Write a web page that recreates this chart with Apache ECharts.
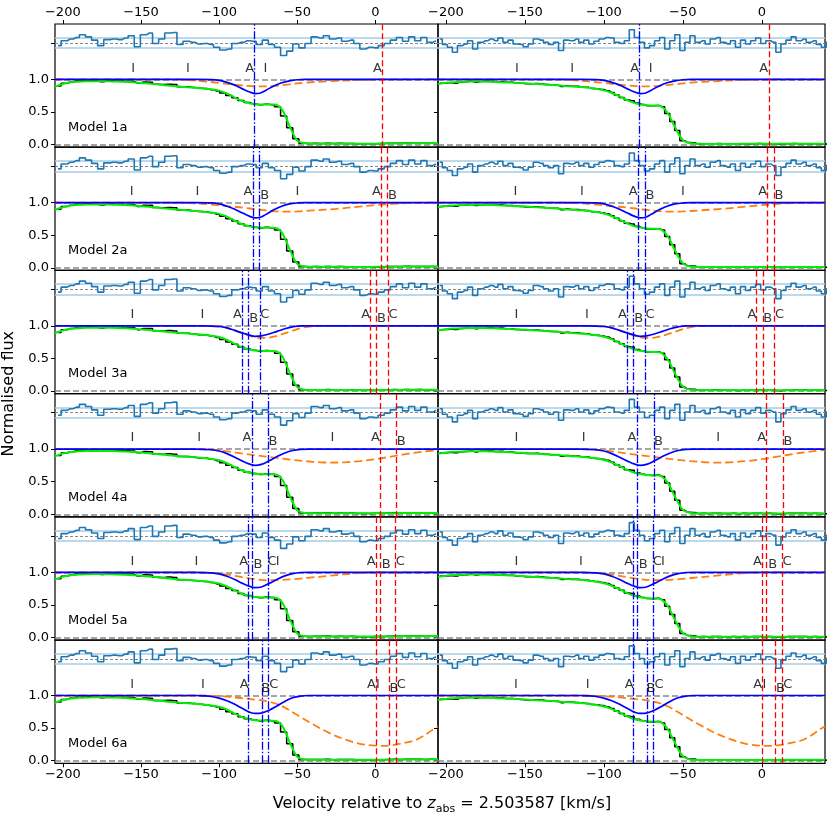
<!DOCTYPE html>
<html>
<head>
<meta charset="utf-8">
<script src="https://cdn.jsdelivr.net/npm/echarts@6.0.0/dist/echarts.min.js"></script>
<style>
html, body { margin: 0; padding: 0; background: #fff; }
#chart { width: 830px; height: 816px; }
</style>
</head>
<body>
<div id="chart"></div>
<script>
// ---- data ----
const modelNames = ['Model 1a', 'Model 2a', 'Model 3a', 'Model 4a', 'Model 5a', 'Model 6a'];
const xTicks = [-200, -150, -100, -50, 0];
const yTickLabels = [0, 0.5, 1];

// velocity grid of the fitted profiles (km/s)
const velGrid = [-205, -200, -195, -190, -185, -180, -175, -170, -165, -160, -155, -150, -145, -140, -135, -130,
  -125, -120, -115, -110, -105, -100, -95, -90, -85, -80, -75, -70, -65, -60, -55, -50, -45, -40, -35, -30,
  -25, -20, -15, -10, -5, 0, 5, 10, 15, 20, 25, 30, 35, 40];

// total fit (green), left and right column
const fitLeft = [0.89, 0.93, 0.955, 0.965, 0.97, 0.972, 0.972, 0.97, 0.968, 0.962, 0.955, 0.946, 0.936, 0.924,
  0.912, 0.9, 0.89, 0.881, 0.872, 0.862, 0.848, 0.828, 0.785, 0.722, 0.668, 0.632, 0.617, 0.615, 0.614, 0.545,
  0.29, 0.06, 0.02, 0.015, 0.015, 0.015, 0.015, 0.015, 0.014, 0.014, 0.014, 0.015, 0.016, 0.017, 0.018, 0.019,
  0.02, 0.02, 0.021, 0.021];
const fitRight = [0.93, 0.948, 0.958, 0.964, 0.967, 0.968, 0.966, 0.962, 0.957, 0.952, 0.946, 0.94, 0.932, 0.925,
  0.918, 0.91, 0.9, 0.891, 0.884, 0.872, 0.856, 0.832, 0.792, 0.74, 0.678, 0.632, 0.611, 0.6, 0.596, 0.5, 0.27,
  0.07, 0.02, 0.012, 0.011, 0.011, 0.011, 0.011, 0.011, 0.012, 0.012, 0.012, 0.012, 0.012, 0.013, 0.013, 0.013,
  0.013, 0.013, 0.013];

// observed flux (black steps)
const binStartLeft = -205, binWidthLeft = 3.9;
const dataLeft = [0.90, 0.94, 0.96, 0.975, 0.985, 0.983, 0.978, 0.965, 0.978, 0.977, 0.974, 0.973, 0.972, 0.942,
  0.961, 0.958, 0.924, 0.922, 0.927, 0.921, 0.886, 0.886, 0.876, 0.865, 0.859, 0.843, 0.822, 0.79, 0.752, 0.719,
  0.676, 0.645, 0.624, 0.611, 0.621, 0.612, 0.58, 0.44, 0.26, 0.088, 0.02, 0.017,
  0.02, 0.018, 0.022, 0.016, 0.019, 0.017, 0.018, 0.012, 0.013, 0.012, 0.014, 0.016, 0.019, 0.022, 0.02, 0.023,
  0.021, 0.022, 0.02, 0.021, 0.021];
const binStartRight = -205.5, binWidthRight = 3.2;
const dataRight = [0.942, 0.944, 0.947, 0.943, 0.959, 0.964, 0.972, 0.957, 0.969, 0.970, 0.970, 0.964, 0.966,
  0.956, 0.956, 0.945, 0.940, 0.932, 0.932, 0.936, 0.930, 0.921, 0.913, 0.912, 0.890, 0.902, 0.895, 0.894, 0.884,
  0.878, 0.862, 0.857, 0.845, 0.828, 0.799, 0.761, 0.724, 0.684, 0.674, 0.637, 0.614, 0.597, 0.595, 0.601, 0.58,
  0.479, 0.354, 0.215, 0.061, 0.031, 0.028,
  0.012, 0.014, 0.011, 0.015, 0.016, 0.012, 0.011, 0.014, 0.009, 0.014, 0.011, 0.014, 0.016, 0.012, 0.014, 0.012,
  0.005, 0.011, 0.014, 0.016, 0.014, 0.015, 0.012, 0.014, 0.011, 0.009, 0.012];

// normalised residuals (sigma units)
const residLeft = [-0.5, 0.4, 0.7, 1.0, 1.5, 1.1, 0.5, -0.5, 0.6, 0.7, 0.6, 0.9, 1.3, -0.7, 1.5, 1.8, -0.1, 0.7,
  1.8, 1.9, -0.3, 0.3, 0.1, -0.2, -0.1, -0.3, -0.8, -1.3, -1.1, -0.1, 0.1, 0.4, 0.3, -0.3, 0.5, -0.3, -0.8, -2.3,
  -1.5, -0.2, -0.9, -0.1, 1.1, 0.9, 1.3, 0.7, 0.9, 0.3, 0.5, -0.1, -1.1, -0.8, -0.9, -0.5, -0.1, 0.5, 1.0, 0.3,
  1.1, 0.4, 1.0, 0.1, 0.4];
const residRight = [0.7, -0.3, -0.8, -1.7, -0.5, -0.2, 0.4, -1.1, 0.1, 0.4, 0.7, 0.4, 0.9, 0.1, 0.5, -0.2, -0.3,
  -0.7, -0.2, 0.7, 0.5, 0.1, -0.3, 0.1, -1.4, 0.5, 0.4, 0.7, 0.1, 0.5, -0.2, 0.3, 0.7, 1.0, 0.9, 0.1, -0.1, 0.4,
  2.4, 1.0, 0.1, -0.9, -0.5, 0.4, 1.0, -1.1, 0.4, 1.5, -1.4, 0.1, 1.3, 0.1, 0.4, -0.2, 0.7, 1.0, 0.1, -0.2, 0.4,
  -0.8, 0.5, -0.2, 0.4, 0.9, -0.1, 0.4, 0.1, -1.7, -0.2, 0.5, 1.1, 0.4, 0.7, 0.1, 0.4, -0.3, -0.8, 0.1];

// single-cloud profiles [velocity, flux]: blue = low-velocity group, orange = high-velocity group
const blue1 = [[-205, 1], [-115, 1], [-105, 0.997], [-100, 0.985], [-95, 0.955], [-90, 0.912], [-85, 0.855],
  [-80, 0.803], [-77, 0.782], [-74, 0.788], [-70, 0.835], [-65, 0.9], [-60, 0.948], [-55, 0.978], [-50, 0.995],
  [-45, 1], [40, 1]];
const orange1 = [[-205, 1], [-130, 1], [-120, 0.99], [-110, 0.97], [-100, 0.948], [-90, 0.918], [-80, 0.898],
  [-72, 0.893], [-65, 0.9], [-55, 0.925], [-45, 0.95], [-30, 0.972], [-15, 0.988], [0, 0.998], [10, 1], [40, 1]];
const blue2 = [[-205, 1], [-115, 1], [-105, 0.995], [-100, 0.98], [-95, 0.945], [-90, 0.9], [-85, 0.84],
  [-80, 0.785], [-77, 0.765], [-74, 0.772], [-70, 0.82], [-65, 0.89], [-60, 0.945], [-55, 0.98], [-50, 0.995],
  [-45, 1], [40, 1]];
const orange2 = [[-205, 1], [-125, 1], [-115, 0.99], [-105, 0.97], [-95, 0.948], [-85, 0.925], [-75, 0.895],
  [-65, 0.87], [-58, 0.862], [-50, 0.865], [-40, 0.88], [-25, 0.905], [-10, 0.94], [0, 0.962], [10, 0.98],
  [20, 0.993], [30, 1], [40, 1]];
const blue3 = [[-205, 1], [-110, 1], [-100, 0.99], [-95, 0.97], [-90, 0.93], [-85, 0.89], [-80, 0.853],
  [-77, 0.84], [-73, 0.845], [-68, 0.875], [-63, 0.915], [-58, 0.955], [-53, 0.985], [-48, 1], [40, 1]];
const orange3 = [[-205, 1], [-110, 1], [-100, 0.99], [-95, 0.97], [-90, 0.93], [-85, 0.885], [-80, 0.845],
  [-75, 0.815], [-70, 0.815], [-65, 0.835], [-60, 0.87], [-55, 0.91], [-50, 0.95], [-45, 0.98], [-40, 0.995],
  [-35, 1], [40, 1]];
const blue4 = [[-205, 1], [-115, 1], [-105, 0.99], [-100, 0.97], [-95, 0.93], [-90, 0.875], [-85, 0.815],
  [-80, 0.765], [-77, 0.75], [-73, 0.765], [-68, 0.82], [-63, 0.885], [-58, 0.94], [-53, 0.978], [-48, 0.996],
  [-43, 1], [40, 1]];
const orange4 = [[-205, 1], [-115, 1], [-105, 0.99], [-95, 0.965], [-85, 0.93], [-75, 0.9], [-65, 0.87],
  [-55, 0.84], [-45, 0.815], [-35, 0.797], [-28, 0.793], [-20, 0.797], [-10, 0.815], [0, 0.845], [10, 0.885],
  [20, 0.925], [30, 0.96], [40, 0.985]];
const blue5 = [[-205, 1], [-115, 1], [-105, 0.99], [-100, 0.975], [-95, 0.94], [-90, 0.89], [-85, 0.83],
  [-80, 0.78], [-77, 0.765], [-73, 0.775], [-68, 0.83], [-63, 0.89], [-58, 0.945], [-53, 0.98], [-48, 0.997],
  [-43, 1], [40, 1]];
const orange5 = [[-205, 1], [-115, 1], [-105, 0.99], [-95, 0.965], [-85, 0.925], [-78, 0.897], [-70, 0.878],
  [-62, 0.88], [-52, 0.895], [-42, 0.918], [-30, 0.945], [-20, 0.97], [-10, 0.988], [0, 1], [40, 1]];
const blue6 = [[-205, 1], [-115, 1], [-110, 0.995], [-105, 0.985], [-100, 0.96], [-95, 0.92], [-90, 0.865],
  [-85, 0.8], [-80, 0.74], [-77, 0.725], [-73, 0.73], [-68, 0.775], [-63, 0.84], [-58, 0.91], [-53, 0.965],
  [-48, 0.992], [-43, 1], [40, 1]];
const orange6 = [[-205, 1], [-110, 1], [-100, 0.99], [-90, 0.97], [-80, 0.945], [-70, 0.915], [-60, 0.84],
  [-50, 0.7], [-40, 0.56], [-30, 0.43], [-20, 0.33], [-10, 0.26], [0, 0.23], [5, 0.228], [10, 0.235],
  [20, 0.28], [25, 0.31], [30, 0.37], [35, 0.45], [40, 0.53]];

// component velocities (vertical lines)
const blueLines = [[-77.5], [-78.4, -74.1], [-85.4, -81.1, -73.6], [-79.1, -68.4], [-81.5, -78.8, -68.9],
  [-81.6, -72.7, -68.9]];
const redLines = [[4.5], [3.5, 7.7], [-3.5, 0.8, 8], [2.8, 13.5], [0.4, 3, 12.8], [0.3, 8.8, 13]];

// tick labels above each fit [velocity, text]
const marks1 = [[-155, 'I'], [-120, 'I'], [-80.4, 'A'], [-70.4, 'I'], [1.2, 'A']];
const marks2 = [[-156, 'I'], [-113.9, 'I'], [-81.5, 'A'], [-70.8, 'B'], [-50, 'I'], [0.6, 'A'], [10.8, 'B']];
const marks3 = [[-155.4, 'I'], [-110.7, 'I'], [-88.3, 'A'], [-77.9, 'B'], [-70.8, 'C'], [-6.3, 'A'], [3.8, 'B'],
  [11.2, 'C']];
const marks4 = [[-155.4, 'I'], [-112.8, 'I'], [-82.2, 'A'], [-65.5, 'B'], [-27.6, 'I'], [0, 'A'], [16.5, 'B']];
const marks5 = [[-155.4, 'I'], [-114.5, 'I'], [-84.3, 'A'], [-75.1, 'B'], [-66.1, 'C'], [-62.6, 'I'],
  [-2.7, 'A'], [6.9, 'B'], [15.9, 'C']];
const marks6 = [[-155.7, 'I'], [-110.3, 'I'], [-84, 'A'], [-70.2, 'B'], [-65, 'C'], [-2.6, 'A'], [1.6, 'I'],
  [11.8, 'B'], [16.5, 'C']];

const blues = [blue1, blue2, blue3, blue4, blue5, blue6];
const oranges = [orange1, orange2, orange3, orange4, orange5, orange6];
const marks = [marks1, marks2, marks3, marks4, marks5, marks6];

// ---- layout ----
const FONT = 'DejaVu Sans';
const colLeft = [55, 438], colWidth = [383, 387];
const TOP = 24, ROWH = 123.22;
const RES0 = 1.56, RESSCALE = 0.084; // residual strip centre and 1-sigma height in flux units
const MARKY = 1.17, MARKY_LOW = 1.11;

const minus = v => String(v).replace('-', '\u2212');

function binPairs(start, width, vals, toY) {
  return vals.map((v, i) => [start + width * (i + 0.5), toY(v)]);
}

const grids = [], xAxes = [], yAxes = [], series = [], graphics = [];

for (let r = 0; r < 6; r++) {
  for (let c = 0; c < 2; c++) {
    const gi = grids.length;
    grids.push({
      left: colLeft[c], width: colWidth[c], top: TOP + r * ROWH, height: ROWH,
      show: true, borderColor: '#000', borderWidth: 1.2, backgroundColor: 'transparent'
    });
    const showX = r === 0 || r === 5;
    xAxes.push({
      gridIndex: gi, type: 'value', min: -205, max: 40,
      position: r === 0 ? 'top' : 'bottom',
      splitLine: { show: false },
      axisLine: { show: false, onZero: false },
      axisTick: { show: showX, length: 4, customValues: xTicks, lineStyle: { color: '#000' } },
      axisLabel: {
        show: showX, customValues: xTicks, formatter: minus,
        color: '#000', fontFamily: FONT, fontSize: 13, margin: 5
      }
    });
    yAxes.push({
      gridIndex: gi, type: 'value', min: -0.04, max: 1.85, position: 'left',
      splitLine: { show: false },
      axisLine: { show: false, onZero: false },
      axisTick: { show: true, length: 4, customValues: [0, 0.5, 1, RES0], lineStyle: { color: '#000' } },
      axisLabel: {
        show: c === 0, customValues: yTickLabels, formatter: v => v.toFixed(1),
        color: '#000', fontFamily: FONT, fontSize: 13, margin: 6
      }
    });

    const fit = c === 0 ? fitLeft : fitRight;
    const dat = c === 0 ? dataLeft : dataRight;
    const res = c === 0 ? residLeft : residRight;
    const bs = c === 0 ? binStartLeft : binStartRight;
    const bw = c === 0 ? binWidthLeft : binWidthRight;

    // residual strip + horizontal reference lines
    series.push({
      type: 'line', xAxisIndex: gi, yAxisIndex: gi, step: 'middle', symbol: 'none', z: 3,
      data: binPairs(bs, bw, res, v => RES0 + v * RESSCALE),
      lineStyle: { color: '#1f77b4', width: 1.6 },
      markLine: {
        silent: true, symbol: ['none', 'none'], label: { show: false }, animation: false, z: 1,
        data: [
          { yAxis: 1, lineStyle: { color: '#888', type: [6, 3], width: 1.5 } },
          { yAxis: 0, lineStyle: { color: '#888', type: [6, 3], width: 1.5 } },
          { yAxis: RES0, lineStyle: { color: '#888', type: [3, 2], width: 1 } },
          { yAxis: RES0 + RESSCALE, lineStyle: { color: '#a6cbe5', type: 'solid', width: 1.5 } },
          { yAxis: RES0 - RESSCALE, lineStyle: { color: '#a6cbe5', type: 'solid', width: 1.5 } }
        ]
      }
    });
    // observed flux
    series.push({
      type: 'line', xAxisIndex: gi, yAxisIndex: gi, step: 'middle', symbol: 'none', z: 4,
      data: binPairs(bs, bw, dat, v => v),
      lineStyle: { color: '#000', width: 1.5 }
    });
    // total fit
    series.push({
      type: 'line', xAxisIndex: gi, yAxisIndex: gi, symbol: 'none', smooth: 0.35, z: 5,
      data: velGrid.map((v, i) => [v, fit[i]]),
      lineStyle: { color: '#00f000', width: 2 }
    });
    // high-velocity group profile
    series.push({
      type: 'line', xAxisIndex: gi, yAxisIndex: gi, symbol: 'none', smooth: 0.35, z: 6,
      data: oranges[r],
      lineStyle: { color: '#ff7f0e', width: 1.8, type: [8, 4] }
    });
    // low-velocity group profile + component lines
    series.push({
      type: 'line', xAxisIndex: gi, yAxisIndex: gi, symbol: 'none', smooth: 0.35, z: 7,
      data: blues[r],
      lineStyle: { color: '#0000ff', width: 1.7 },
      markLine: {
        silent: true, symbol: ['none', 'none'], label: { show: false }, animation: false, z: 8,
        data: blueLines[r].map(v => ({ xAxis: v, lineStyle: { color: '#0000ff', type: [8, 2, 1.5, 2], width: 1.3 } }))
          .concat(redLines[r].map(v => ({ xAxis: v, lineStyle: { color: '#ff0000', type: [6, 3], width: 1.3 } })))
      }
    });
    // component tick labels
    series.push({
      type: 'scatter', xAxisIndex: gi, yAxisIndex: gi, symbolSize: 1, z: 9, silent: true,
      itemStyle: { color: 'rgba(0,0,0,0)' },
      data: marks[r].map(m => ({ value: [m[0], m[1] === 'B' ? MARKY_LOW : MARKY], name: m[1] })),
      label: {
        show: true, position: 'inside', formatter: p => p.name,
        color: '#000', fontFamily: FONT, fontSize: 13
      }
    });

    if (c === 0) {
      graphics.push({
        type: 'text', left: colLeft[0] + 13, top: TOP + r * ROWH + 97,
        style: { text: modelNames[r], font: '13px "' + FONT + '"', fill: '#000' }
      });
    }
  }
}

graphics.push({
  type: 'text', x: 9, y: TOP + 3 * ROWH, rotation: Math.PI / 2,
  style: { text: 'Normalised flux', font: '16px "' + FONT + '"', fill: '#000', align: 'center', verticalAlign: 'middle' }
});
graphics.push({
  type: 'text', x: 442, y: 804,
  style: {
    text: '{a|Velocity relative to }{z|z}{s|abs}{a| = 2.503587 [km/s]}',
    align: 'center', verticalAlign: 'middle', fill: '#000',
    rich: {
      a: { fontFamily: FONT, fontSize: 16, fill: '#000' },
      z: { fontFamily: FONT, fontSize: 16, fontStyle: 'italic', fill: '#000' },
      s: { fontFamily: FONT, fontSize: 11, fill: '#000', padding: [10, 0, 0, 0] }
    }
  }
});

const chart = echarts.init(document.getElementById('chart'), null, { renderer: 'canvas' });
chart.setOption({
  animation: false,
  backgroundColor: '#fff',
  grid: grids,
  xAxis: xAxes,
  yAxis: yAxes,
  series: series,
  graphic: graphics
});
</script>
</body>
</html>
